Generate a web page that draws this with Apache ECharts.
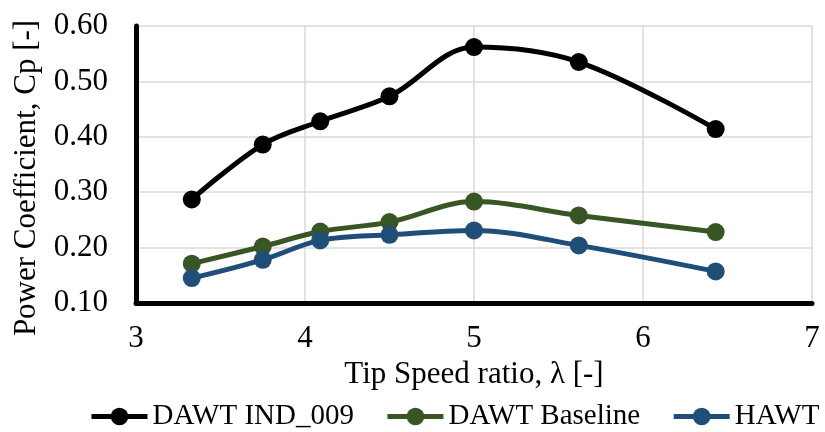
<!DOCTYPE html>
<html>
<head>
<meta charset="utf-8">
<script src="https://cdn.jsdelivr.net/npm/echarts@6/dist/echarts.min.js"></script>
<style>html,body{margin:0;padding:0;background:#fff}#c{width:825px;height:432px}</style>
</head>
<body>
<div id="c"></div>
<script>
var tsr = [3.33, 3.75, 4.09, 4.50, 5.00, 5.62, 6.43];
var dawtInd009 = [0.287, 0.386, 0.428, 0.473, 0.562, 0.535, 0.414];
var dawtBaseline = [0.171, 0.202, 0.229, 0.246, 0.283, 0.258, 0.228];
var hawt = [0.145, 0.178, 0.213, 0.223, 0.231, 0.204, 0.157];
var seriesNames = ['DAWT IND_009', 'DAWT Baseline', 'HAWT'];
var colors = ['#000000', '#375623', '#1F4E79'];
var xTitle = 'Tip Speed ratio, λ [-]';
var yTitle = 'Power Coefficient, Cp [-]';

function pairs(xs, ys) { return xs.map(function (x, i) { return [x, ys[i]]; }); }
var font = 'Liberation Serif';
var chart = echarts.init(document.getElementById('c'));
var allData = [dawtInd009, dawtBaseline, hawt];
chart.setOption({
  animation: false,
  backgroundColor: '#ffffff',
  grid: { left: 136, right: 13, top: 26, bottom: 129 },
  legend: {
    top: 397,
    left: 84,
    itemWidth: 56,
    itemHeight: 22,
    itemGap: 31,
    lineStyle: { width: 5 },
    textStyle: { fontFamily: font, fontSize: 29, color: '#000' },
    data: seriesNames
  },
  graphic: [{
    type: 'text', x: 27, y: 178, rotation: Math.PI / 2,
    style: { text: yTitle, fontFamily: font, fontSize: 31, fill: '#000',
      align: 'center', verticalAlign: 'middle' }
  }],
  xAxis: {
    type: 'value', min: 3, max: 7, interval: 1,
    name: xTitle, nameLocation: 'middle', nameGap: 50,
    nameTextStyle: { fontFamily: font, fontSize: 31, color: '#000' },
    axisLine: { show: true, onZero: false, lineStyle: { color: '#000', width: 5 } },
    axisTick: { show: false },
    axisLabel: { fontFamily: font, fontSize: 31, color: '#000', margin: 20 },
    splitLine: { show: true, lineStyle: { color: '#d9d9d9', width: 1.5 } }
  },
  yAxis: {
    type: 'value', min: 0.1, max: 0.6, interval: 0.1,
    axisLine: { show: true, onZero: false, lineStyle: { color: '#000', width: 5 } },
    axisTick: { show: false },
    axisLabel: { fontFamily: font, fontSize: 31, color: '#000', margin: 28,
      formatter: function (v) { return v.toFixed(2); } },
    splitLine: { show: true, lineStyle: { color: '#d9d9d9', width: 1.5 } }
  },
  series: seriesNames.map(function (n, i) {
    return {
      name: n, type: 'line', smooth: 0.35,
      data: pairs(tsr, allData[i]),
      symbol: 'circle', symbolSize: 18,
      lineStyle: { color: colors[i], width: 5 },
      itemStyle: { color: colors[i] }
    };
  })
});
</script>
</body>
</html>
